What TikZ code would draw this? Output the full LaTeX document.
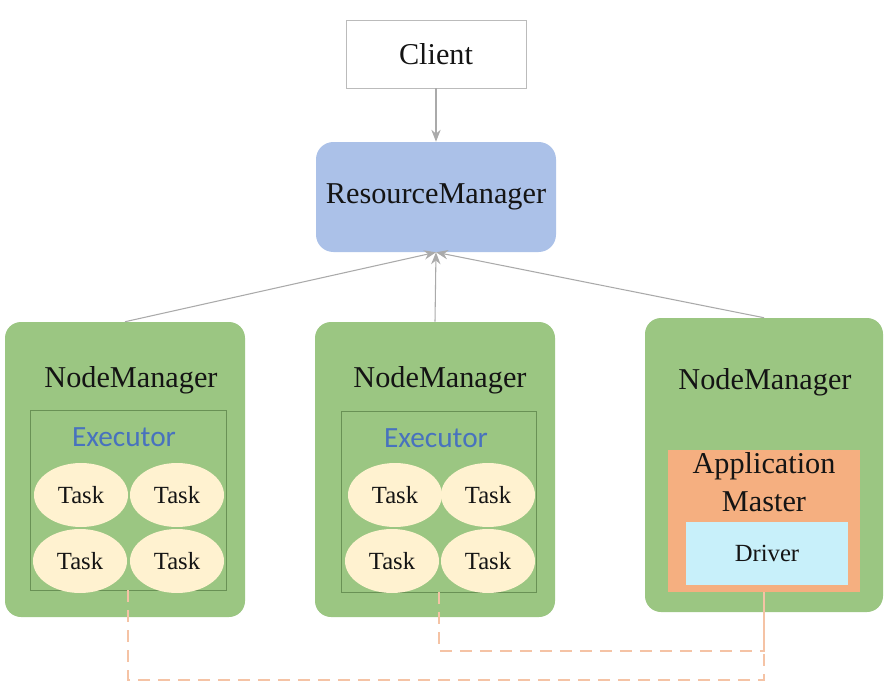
\documentclass[tikz,border=0pt]{standalone}
\usepackage{fontspec}
\setmainfont{Liberation Serif}
\newfontfamily\calib{Carlito}
\usetikzlibrary{shapes.geometric,arrows.meta}
\definecolor{rmblue}{RGB}{171,193,232}
\definecolor{nmgreen}{RGB}{155,198,130}
\definecolor{exborder}{RGB}{105,145,85}
\definecolor{taskfill}{RGB}{255,242,208}
\definecolor{amorange}{RGB}{245,175,128}
\definecolor{drvcyan}{RGB}{200,240,250}
\definecolor{dashorange}{RGB}{245,195,165}
\definecolor{exblue}{RGB}{72,114,190}
\definecolor{arrgray}{RGB}{170,170,170}
\definecolor{txt}{RGB}{20,20,20}
\tikzset{
  bigtext/.style={font=\fontsize{22.7}{27}\selectfont, text=txt},
  smalltext/.style={font=\fontsize{18.5}{22}\selectfont, text=txt},
  clientbox/.style={draw=arrgray!80, line width=0.6pt, fill=white, minimum width=135pt, minimum height=51pt, inner sep=0pt},
  rmbox/.style={fill=rmblue, rounded corners=13pt, minimum width=180pt, minimum height=82.5pt, inner sep=0pt},
  nmbox/.style={fill=nmgreen, rounded corners=12pt, minimum width=180pt, minimum height=221.25pt, inner sep=0pt},
  exbox/.style={draw=exborder, line width=0.6pt, minimum width=147pt, minimum height=135pt, inner sep=0pt},
  taskell/.style={ellipse, fill=taskfill, minimum width=70.5pt, minimum height=48pt, inner sep=0pt, smalltext},
  ambox/.style={fill=amorange, minimum width=144pt, minimum height=106.5pt, inner sep=0pt},
  drvbox/.style={fill=drvcyan, minimum width=121.5pt, minimum height=47.25pt, inner sep=0pt, smalltext},
  garrow/.style={draw=arrgray, line width=0.8pt, -{Stealth[length=9pt,width=7pt]}},
  dashline/.style={draw=dashorange, line width=1.5pt, dash pattern=on 9pt off 6pt},
  extext/.style={font=\calib\fontsize{22}{26}\selectfont, text=exblue}
}
\begin{document}
\begin{tikzpicture}[x=0.75pt,y=-0.75pt]
\useasboundingbox (0,0) rectangle (894,690);
% top
\node[clientbox] (client) at (436,54) {};
\node[bigtext] (clientt) at (436,54) {Client};
\node[rmbox] (rm) at (436,197) {};
\node[bigtext] (rmt) at (436,197) {ResourceManager};
% node managers
\node[nmbox] (nm1) at (125,469.5) {};
\node[nmbox] (nm2) at (435,469.5) {};
\node[nmbox, minimum width=178.5pt, minimum height=220.5pt] (nm3) at (764,465) {};
\node[bigtext] (nm1t) at (131,380) {NodeManager};
\node[bigtext] (nm2t) at (440,380) {NodeManager};
\node[bigtext] (nm3t) at (765,382) {NodeManager};
% executors
\node[exbox] (ex1) at (128,500) {};
\node[exbox, minimum width=146.25pt, minimum height=135.75pt] (ex2) at (438.5,501.5) {};
\node[extext] (ex1t) at (124,437) {Executor};
\node[extext] (ex2t) at (436,438) {Executor};
\node[taskell] (t11) at (81,495) {Task};
\node[taskell] (t12) at (177,495) {Task};
\node[taskell] (t13) at (80,561) {Task};
\node[taskell] (t14) at (177,561) {Task};
\node[taskell] (t21) at (395,495) {Task};
\node[taskell] (t22) at (488,495) {Task};
\node[taskell] (t23) at (392,561) {Task};
\node[taskell] (t24) at (488,561) {Task};
% application master
\node[ambox] (am) at (764,521) {};
\node[bigtext, align=center, font=\fontsize{22.7}{28}\selectfont] (amt) at (764,482) {Application\\Master};
\node[drvbox] (drv) at (767,553.5) {Driver};
% arrows
\draw[garrow] (client) -- (rm);
\draw[garrow] (nm1.north) -- (rm.south);
\draw[garrow] (nm2.north) -- (rm.south);
\draw[garrow] (nm3.north) -- (rm.south);
% dashed links
\coordinate (d1) at (128,680);
\coordinate (d2) at (438.5,651);
\draw[dashline] (ex1.south) -- (d1) -| (am.south);
\draw[dashline] (ex2.south) -- (d2) -| (am.south);
\end{tikzpicture}
\end{document}
